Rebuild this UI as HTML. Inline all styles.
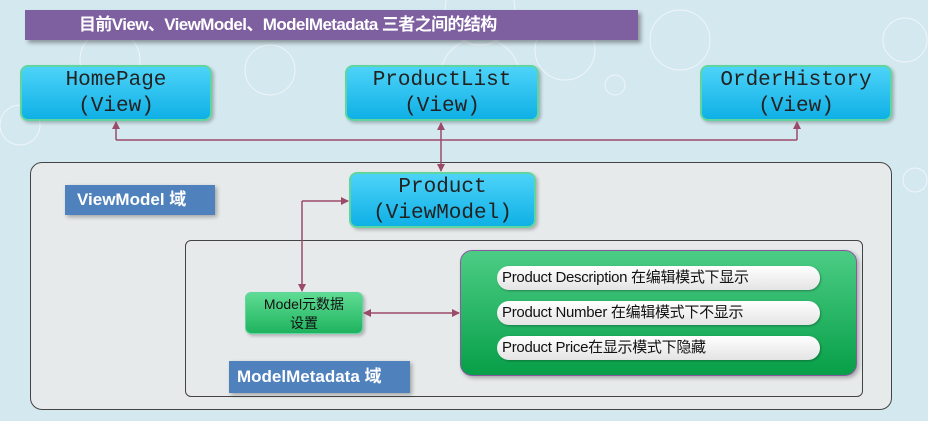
<!DOCTYPE html>
<html><head><meta charset="utf-8"><style>
body{margin:0;width:928px;height:421px;overflow:hidden;background:#d4e8ef;position:relative;font-family:"Liberation Sans","Noto Sans CJK SC",sans-serif}
.a{position:absolute;box-sizing:border-box}
.view{background:linear-gradient(#4dd3f8,#0fb0e6);border:2px solid #5fd6a0;border-radius:8px;font-family:"Liberation Mono",monospace;font-size:21px;color:#222;text-align:center;line-height:26px;padding-top:1px;box-shadow:2px 2px 3px rgba(0,0,0,.25)}
.lbl{background:#4f81bd;color:#fff;font-weight:bold;font-size:17px;box-shadow:2px 2px 4px rgba(0,0,0,.3)}
.pill{background:linear-gradient(#fff,#e4e4e4);border-radius:12px;font-size:15px;letter-spacing:-0.3px;color:#111;padding-left:5px;line-height:24px;height:24px;width:323px;left:497px;box-shadow:1px 1px 2px rgba(0,0,0,.3)}
</style></head><body>
<svg class="a" style="left:0;top:0" width="928" height="421">
<g fill="none" stroke="#fff" stroke-opacity=".6"><circle cx="110" cy="60" r="30"/><circle cx="270" cy="70" r="25"/><circle cx="480" cy="78" r="40"/><circle cx="565" cy="50" r="30"/><circle cx="680" cy="40" r="30"/><circle cx="905" cy="40" r="22"/><circle cx="480" cy="10" r="35"/><circle cx="20" cy="125" r="20"/><circle cx="915" cy="180" r="12"/><circle cx="615" cy="85" r="10"/></g>
</svg>
<div class="a" style="left:25px;top:10px;width:613px;height:30px;background:#7e5fa0;color:#fff;font-weight:bold;font-size:17px;letter-spacing:-0.6px;line-height:30px;padding-left:54px;box-shadow:3px 3px 4px rgba(0,0,0,.35)">目前View、ViewModel、ModelMetadata 三者之间的结构</div>
<div class="a view" style="left:20px;top:65px;width:192px;height:56px">HomePage<br>(View)</div>
<div class="a view" style="left:345px;top:65px;width:194px;height:56px">ProductList<br>(View)</div>
<div class="a view" style="left:700px;top:65px;width:192px;height:56px">OrderHistory<br>(View)</div>
<div class="a" style="left:30px;top:162px;width:862px;height:248px;background:#e7eaeb;border:1px solid #444;border-radius:12px"></div>
<div class="a lbl" style="left:65px;top:185px;width:150px;height:30px;line-height:30px;padding-left:12px">ViewModel 域</div>
<div class="a view" style="left:349px;top:172px;width:187px;height:56px">Product<br>(ViewModel)</div>
<div class="a" style="left:185px;top:240px;width:678px;height:157px;border:1px solid #444;border-radius:6px"></div>
<div class="a" style="left:245px;top:292px;width:118px;height:42px;background:linear-gradient(#5fdc94,#1fb35e);border:1px solid #5fd6a0;border-radius:6px;font-size:14px;text-align:center;line-height:19px;padding-top:2px;color:#111;box-shadow:2px 2px 3px rgba(0,0,0,.25)">Model元数据<br>设置</div>
<div class="a" style="left:460px;top:250px;width:397px;height:126px;background:linear-gradient(#4ccd85,#079f48);border:1px solid #8a5aa0;border-radius:12px;box-shadow:2px 2px 4px rgba(0,0,0,.3)"></div>
<div class="a pill" style="top:266px">Product Description 在编辑模式下显示</div>
<div class="a pill" style="top:301px">Product Number 在编辑模式下不显示</div>
<div class="a pill" style="top:336px">Product Price在显示模式下隐藏</div>
<div class="a lbl" style="left:229px;top:361px;width:181px;height:32px;line-height:32px;padding-left:8px">ModelMetadata 域</div>
<svg class="a" style="left:0;top:0" width="928" height="421">
<defs><marker id="m" markerWidth="8" markerHeight="8" refX="7" refY="4" orient="auto-start-reverse" markerUnits="userSpaceOnUse"><path d="M0,0L8,4L0,8z" fill="#9b4a6a"/></marker></defs>
<g stroke="#9b4a6a" stroke-width="1.5" fill="none">
<path d="M116,140H797"/>
<path d="M116,140V122" marker-end="url(#m)"/>
<path d="M797,140V122" marker-end="url(#m)"/>
<path d="M441,123V171" marker-start="url(#m)" marker-end="url(#m)"/>
<path d="M302,201H348" marker-end="url(#m)"/>
<path d="M302,201V291" marker-end="url(#m)"/>
<path d="M364,313H459" marker-start="url(#m)" marker-end="url(#m)"/>
</g></svg>
</body></html>
